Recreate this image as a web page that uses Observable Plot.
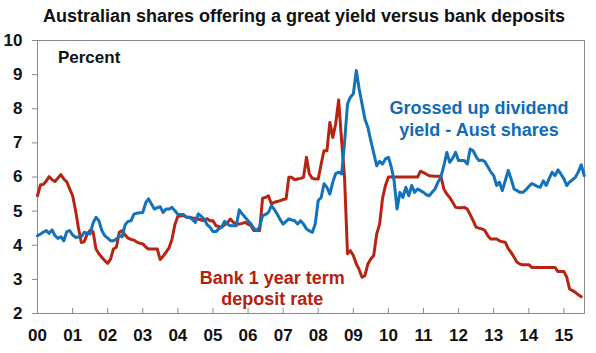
<!DOCTYPE html>
<html><head><meta charset="utf-8">
<script src="https://cdn.jsdelivr.net/npm/d3@7"></script>
<script src="https://cdn.jsdelivr.net/npm/@observablehq/plot@0.6"></script>
<style>
html,body{margin:0;padding:0;background:#fff;}
#wrap{position:relative;width:596px;height:353px;font-family:"Liberation Sans",Arial,sans-serif;}
#title{position:absolute;left:0;top:5px;width:608px;text-align:center;font-weight:bold;font-size:18px;line-height:22px;color:#111;}
</style></head><body>
<div id="wrap"><div id="title"></div><div id="chart"></div></div>
<script>
const title = "Australian shares offering a great yield versus bank deposits";
const yAxisLabel = "Percent";
const blueLabel = "Grossed up dividend\nyield - Aust shares";
const redLabel = "Bank 1 year term\ndeposit rate";
const years = [2000,2001,2002,2003,2004,2005,2006,2007,2008,2009,2010,2011,2012,2013,2014,2015];
const tickLabels = ["00","01","02","03","04","05","06","07","08","09","10","11","12","13","14","15"];
const yTicks = [2,3,4,5,6,7,8,9,10];

// Monthly values starting January 2000
const redValues = [
5.45,5.77,5.78,5.88,6.01,5.92,5.87,5.97,6.07,5.94,5.86,5.65,
5.45,5.01,4.53,4.08,4.10,4.33,4.43,4.40,3.89,3.75,3.65,3.55,
3.47,3.60,3.89,3.94,4.38,4.43,4.30,4.21,4.17,4.15,4.09,4.06,
4.04,3.95,3.89,3.89,3.89,3.89,3.58,3.68,3.80,3.92,4.18,4.60,
4.85,4.86,4.87,4.82,4.82,4.80,4.79,4.77,4.74,4.72,4.78,4.72,
4.72,4.57,4.55,4.53,4.60,4.67,4.77,4.67,4.62,4.62,4.64,4.67,
4.62,4.57,4.43,4.43,4.43,5.38,5.40,5.45,5.21,5.26,5.28,5.31,
5.34,5.36,5.99,5.99,5.92,5.94,5.96,5.99,6.58,6.09,5.96,5.94,
5.94,6.38,6.77,6.77,7.60,7.16,7.56,8.26,7.05,6.00,3.75,3.84,
3.70,3.45,3.30,3.06,3.11,3.45,3.60,3.70,4.33,4.62,5.38,5.75,
6.00,6.00,6.00,6.00,6.00,6.00,6.00,6.00,6.00,6.00,6.00,6.17,
6.13,6.08,6.04,6.03,6.02,6.02,6.02,5.65,5.50,5.40,5.26,5.11,
5.10,5.10,5.11,5.06,4.90,4.72,4.53,4.50,4.48,4.43,4.28,4.18,
4.18,4.18,4.13,4.10,4.09,3.90,3.79,3.65,3.50,3.45,3.43,3.43,
3.43,3.35,3.35,3.35,3.35,3.35,3.35,3.35,3.35,3.35,3.23,3.23,
3.23,3.06,2.72,2.67,2.62,2.55,2.49
];
const blueValues = [
4.28,4.33,4.38,4.43,4.35,4.45,4.28,4.20,4.25,4.13,4.40,4.43,
4.30,4.23,4.24,4.25,4.38,4.35,4.33,4.65,4.82,4.72,4.43,4.28,
4.21,4.13,4.13,4.18,4.28,4.25,4.60,4.70,4.72,4.91,4.94,4.95,
4.96,5.25,5.36,5.21,5.06,5.10,5.13,4.96,5.06,5.06,5.11,5.01,
4.91,4.90,4.90,4.82,4.82,4.75,4.67,4.92,4.85,4.77,4.60,4.53,
4.40,4.40,4.48,4.53,4.70,4.62,4.57,4.57,4.57,5.04,4.92,4.82,
4.72,4.62,4.50,4.43,4.53,4.87,4.90,4.96,5.16,5.05,4.91,4.75,
4.62,4.70,4.77,4.74,4.72,4.62,4.72,4.62,4.48,4.42,4.38,4.62,
5.31,5.40,5.80,5.70,5.50,5.85,6.10,6.14,6.09,7.00,8.14,8.34,
8.44,9.12,8.60,8.15,7.70,7.46,7.07,6.70,6.33,6.46,6.38,6.53,
6.58,6.28,5.89,5.06,5.55,5.40,5.70,5.45,5.75,5.55,5.65,5.60,
5.55,5.48,5.45,5.55,5.65,5.85,6.00,6.33,6.72,6.43,6.55,6.72,
6.48,6.48,6.48,6.38,6.82,6.77,6.60,6.48,6.50,6.45,6.30,6.15,
6.04,5.75,5.85,5.60,5.89,6.19,5.94,5.65,5.60,5.55,5.55,5.62,
5.72,5.81,5.77,5.72,5.70,5.89,5.75,5.95,6.14,6.04,6.21,6.09,
5.95,5.75,5.85,5.92,5.99,6.15,6.36,6.04
];

const blueLine = "#1472b8";
const redLine = "#b82412";
const blueText = "#0f6cb4";
const redText = "#b5200f";
const axisGray = "#8a8a8a";

const red = redValues.map((v, i) => ({date: new Date(2000, i, 1), value: v}));
const blue = blueValues.map((v, i) => ({date: new Date(2000, i, 1), value: v}));
const yearDates = years.map(y => new Date(y, 0, 1));

document.getElementById("title").textContent = title;

const plot = Plot.plot({
  width: 596, height: 353,
  marginLeft: 37, marginRight: 12, marginTop: 40, marginBottom: 40,
  style: {fontFamily: '"Liberation Sans", Arial, sans-serif', fontWeight: "bold", fontSize: "17px", color: "#111", background: "transparent"},
  x: {type: "time", domain: [new Date(2000, 0, 1), new Date(2015, 7, 4)]},
  y: {domain: [2, 10]},
  marks: [
    Plot.frame({stroke: axisGray}),
    Plot.tickX(yearDates, {x: d => d, stroke: axisGray, insetTop: 268}),
    Plot.axisX({ticks: yearDates, tickFormat: d => tickLabels[years.indexOf(d.getFullYear())], tickSize: 0, tickPadding: 15, label: null, fontSize: 17}),
    Plot.axisY({ticks: yTicks, tickSize: 5, tickPadding: 10, stroke: axisGray, label: null, fontSize: 17}),
    Plot.line(red, {x: "date", y: "value", stroke: redLine, strokeWidth: 3}),
    Plot.line(blue, {x: "date", y: "value", stroke: blueLine, strokeWidth: 3}),
    Plot.text([yAxisLabel], {x: new Date(2000, 7, 1), y: 9.5, text: d => d, textAnchor: "start", fontSize: 17, fill: "#111"}),
    Plot.text([blueLabel], {x: new Date(2012, 7, 1), y: 7.73, text: d => d, fontSize: 18, lineHeight: 1.2, fill: blueText}),
    Plot.text([redLabel], {x: new Date(2006, 8, 10), y: 2.76, text: d => d, fontSize: 18, lineHeight: 1.2, fill: redText})
  ]
});
document.getElementById("chart").appendChild(plot);
</script></body></html>
